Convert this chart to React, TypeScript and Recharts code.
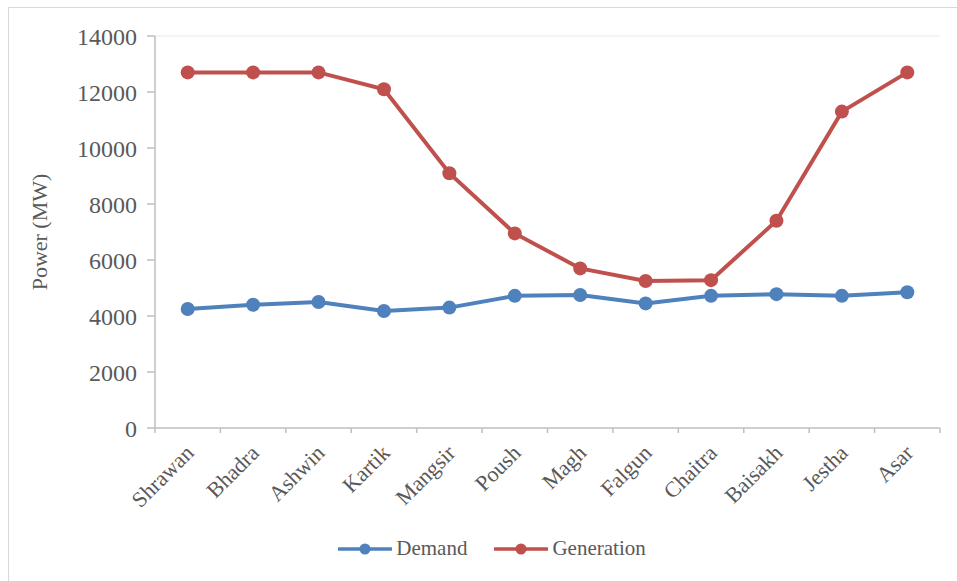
import { LineChart, Line, XAxis, YAxis, Legend, ReferenceLine } from 'recharts';

const MONTHS = ['Shrawan', 'Bhadra', 'Ashwin', 'Kartik', 'Mangsir', 'Poush', 'Magh', 'Falgun', 'Chaitra', 'Baisakh', 'Jestha', 'Asar'];
const DEMAND = [4250, 4400, 4500, 4180, 4300, 4720, 4750, 4450, 4720, 4780, 4720, 4850];
const GENERATION = [12700, 12700, 12700, 12100, 9100, 6950, 5700, 5250, 5280, 7400, 11300, 12700];
const Y_TICKS = [0, 2000, 4000, 6000, 8000, 10000, 12000, 14000];

const BLUE = '#4F81BD';
const RED = '#C0504D';
const AXIS = '#BFBFBF';
const TEXT = '#595959';
const FONT = '"Liberation Serif", "Times New Roman", serif';

const WIDTH = 957;
const HEIGHT = 581;
const PLOT_LEFT = 155;
const PLOT_RIGHT = 17;
const HALF_BAND = (WIDTH - PLOT_LEFT - PLOT_RIGHT) / MONTHS.length / 2;
const TICK_SIZE = 5;
const TICK_MARGIN = 4;

const data = MONTHS.map((month, i) => ({
  month,
  demand: DEMAND[i],
  generation: GENERATION[i],
}));

// category labels sit in the middle of each band, tick marks on the band edges
function MonthTick(props: any) {
  const { x, y, payload, index } = props;
  const axisY = y - TICK_SIZE - TICK_MARGIN;
  const last = index === MONTHS.length - 1;
  const lx = x - 4;
  const ly = y + 6;
  return (
    <g>
      <line x1={x - HALF_BAND} x2={x - HALF_BAND} y1={axisY} y2={axisY + TICK_SIZE} stroke={AXIS} strokeWidth={1.5} />
      {last && <line x1={x + HALF_BAND} x2={x + HALF_BAND} y1={axisY} y2={axisY + TICK_SIZE} stroke={AXIS} strokeWidth={1.5} />}
      <text
        x={lx}
        y={ly}
        transform={`rotate(-45, ${lx}, ${ly})`}
        textAnchor="end"
        dominantBaseline="hanging"
        fill={TEXT}
        fontSize={22}
        fontFamily={FONT}
      >
        {payload.value}
      </text>
    </g>
  );
}

function LegendContent() {
  const items = [
    { label: 'Demand', color: BLUE },
    { label: 'Generation', color: RED },
  ];
  return (
    <div style={{ display: 'flex', justifyContent: 'center', alignItems: 'center', paddingLeft: 44, height: 41, paddingBottom: 12 }}>
      {items.map((item, i) => (
        <div key={item.label} style={{ display: 'flex', alignItems: 'center', marginLeft: i ? 27 : 0 }}>
          <svg width={54} height={14}>
            <line x1={1} x2={53} y1={7} y2={7} stroke={item.color} strokeWidth={3.5} strokeLinecap="round" />
            <circle cx={27} cy={7} r={5.5} fill={item.color} />
          </svg>
          <span style={{ marginLeft: 4, fontFamily: FONT, fontSize: 21, color: TEXT }}>{item.label}</span>
        </div>
      ))}
    </div>
  );
}

export default function App() {
  return (
    <div style={{ position: 'absolute', left: 0, top: 0, width: WIDTH, height: HEIGHT, background: '#fff', overflow: 'hidden' }}>
      <div style={{ position: 'absolute', left: 8, top: 7, width: WIDTH, height: HEIGHT, borderLeft: '1.5px solid #D9D9D9', borderTop: '1.5px solid #D9D9D9' }} />
      <div style={{ position: 'absolute', left: 0, top: 0 }}>
        <LineChart width={WIDTH} height={HEIGHT} data={data} margin={{ top: 36, right: PLOT_RIGHT, left: 0, bottom: 0 }}>
          <ReferenceLine y={14000} stroke="#EDF2F9" strokeWidth={1.5} />
          <XAxis
            dataKey="month"
            height={100}
            interval={0}
            padding={{ left: HALF_BAND, right: HALF_BAND }}
            stroke={AXIS}
            strokeWidth={1.5}
            tickLine={false}
            tickSize={TICK_SIZE}
            tickMargin={TICK_MARGIN}
            tick={<MonthTick />}
          />
          <YAxis
            width={PLOT_LEFT}
            domain={[0, 14000]}
            ticks={Y_TICKS}
            interval={0}
            stroke={AXIS}
            strokeWidth={1.5}
            tickSize={8}
            tickMargin={10}
            tick={{ fill: TEXT, fontSize: 24, fontFamily: FONT }}
            label={{ value: 'Power (MW)', angle: -90, position: 'center', dx: -38, fill: TEXT, fontSize: 22, fontFamily: FONT }}
          />
          <YAxis yAxisId="frame" orientation="right" width={0} stroke="#E6ECF5" strokeWidth={1.5} tick={false} tickLine={false} />
          <Legend verticalAlign="bottom" content={<LegendContent />} wrapperStyle={{ height: 53 }} />
          <Line
            dataKey="demand"
            name="Demand"
            stroke={BLUE}
            strokeWidth={4}
            dot={{ r: 7, fill: BLUE, stroke: BLUE, strokeWidth: 0 }}
            activeDot={false}
            isAnimationActive={false}
          />
          <Line
            dataKey="generation"
            name="Generation"
            stroke={RED}
            strokeWidth={4}
            dot={{ r: 7, fill: RED, stroke: RED, strokeWidth: 0 }}
            activeDot={false}
            isAnimationActive={false}
          />
        </LineChart>
      </div>
    </div>
  );
}
